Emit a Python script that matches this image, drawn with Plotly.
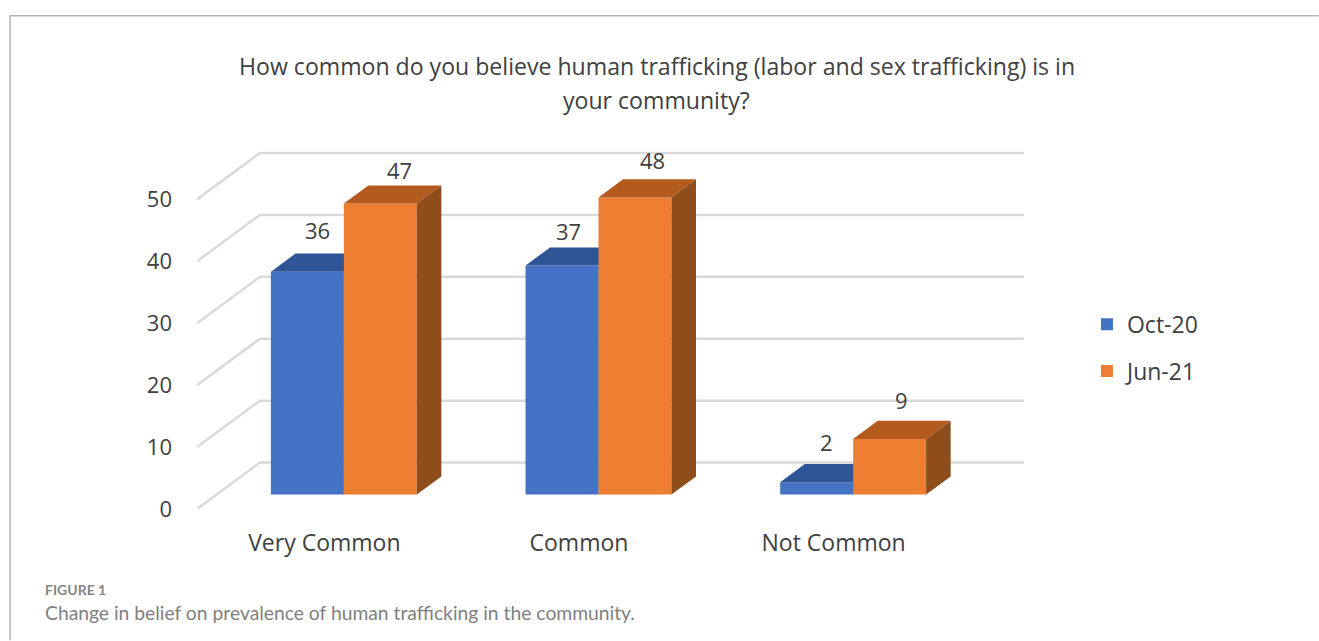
import plotly.graph_objects as go

# Survey results
categories = ["Very Common", "Common", "Not Common"]
oct_20 = [36, 37, 2]
jun_21 = [47, 48, 9]
y_ticks = [0, 10, 20, 30, 40, 50]

TITLE_LINES = ["How common do you believe human trafficking (labor and sex trafficking) is in",
               "your community?"]
FIG_LABEL = "FIGURE 1"
CAPTION = "Change in belief on prevalence of human trafficking in the community."

# Page and plot geometry, in pixels
W, H = 1319, 641
LEFT, RIGHT_EDGE, TOP, FLOOR = 196.5, 1040, 130, 509.5
PX_X = 254.8   # pixels per category
PX_Y = 6.2     # pixels per survey point
X_RANGE = [-0.5, -0.5 + (RIGHT_EDGE - LEFT) / PX_X]
Y_RANGE = [0, (FLOOR - TOP) / PX_Y]

# Oblique projection of the box: screen offset of the chart's full depth
DEPTH_X = 63 / PX_X
DEPTH_Y = 46.5 / PX_Y
BAR_NEAR, BAR_FAR = 0.31, 0.70   # where the bars sit along that depth
BAR_WIDTH = 73 / PX_X

TEXT = "#404040"
GRID = "#d9d9d9"
FONT = "Open Sans"
SERIES = [
    dict(name="Oct-20", values=oct_20, front="#4472C4", top="#2F5597", side="#2A4A80", offset=-0.5),
    dict(name="Jun-21", values=jun_21, front="#ED7D31", top="#B35A1F", side="#8F4D1B", offset=0.5),
]
# Nudges in pixels that keep each value label clear of its bar top
LABEL_SHIFTS = {
    "Oct-20": [(10, 42), (6, 35), (10, 40)],
    "Jun-21": [(19, 34), (18, 37), (12, 39)],
}


def project(x, y, depth):
    """Map a point on the floor plan to its oblique screen position in axis units."""
    return x + depth * DEPTH_X, y + depth * DEPTH_Y


plot_w = RIGHT_EDGE - LEFT
plot_h = FLOOR - TOP


def paper_x(px):
    return (px - LEFT) / plot_w


def paper_y(py):
    return (FLOOR - py) / plot_h


fig = go.Figure()

# Back wall gridlines and the receding lines on the side wall
for tick in y_ticks:
    x0, y0 = project(-0.5, tick, 0)
    x1, y1 = project(-0.5, tick, 1)
    x2, y2 = project(2.5, tick, 1)
    fig.add_trace(go.Scatter(
        x=[x0, x1, x2], y=[y0, y1, y2], mode="lines",
        line=dict(color=GRID, width=2.5), showlegend=False, hoverinfo="skip",
        xaxis="x", yaxis="y",
    ))

# Each series lives on its own overlaid axes so later bars hide earlier ones
for k, s in enumerate(SERIES):
    xa, ya = f"x{k + 2}", f"y{k + 2}"
    centers = [i + s["offset"] * BAR_WIDTH for i in range(len(categories))]
    _, base = project(0, 0, BAR_NEAR)
    shift_x = BAR_NEAR * DEPTH_X

    fig.add_trace(go.Bar(
        x=[c + shift_x for c in centers], y=s["values"], base=base, width=BAR_WIDTH,
        marker=dict(color=s["front"], line=dict(width=0)), name=s["name"],
        showlegend=False, xaxis=xa, yaxis=ya,
    ))

    for c, v in zip(centers, s["values"]):
        l, r = c - BAR_WIDTH / 2, c + BAR_WIDTH / 2
        # Top face
        pts = [project(l, v, BAR_NEAR), project(r, v, BAR_NEAR),
               project(r, v, BAR_FAR), project(l, v, BAR_FAR)]
        fig.add_trace(go.Scatter(
            x=[p[0] for p in pts] + [pts[0][0]], y=[p[1] for p in pts] + [pts[0][1]],
            mode="lines", fill="toself", fillcolor=s["top"], line=dict(width=0),
            showlegend=False, hoverinfo="skip", xaxis=xa, yaxis=ya,
        ))
        # Right side face
        pts = [project(r, 0, BAR_NEAR), project(r, v, BAR_NEAR),
               project(r, v, BAR_FAR), project(r, 0, BAR_FAR)]
        fig.add_trace(go.Scatter(
            x=[p[0] for p in pts] + [pts[0][0]], y=[p[1] for p in pts] + [pts[0][1]],
            mode="lines", fill="toself", fillcolor=s["side"], line=dict(width=0),
            showlegend=False, hoverinfo="skip", xaxis=xa, yaxis=ya,
        ))

    # Legend swatch
    fig.add_trace(go.Scatter(
        x=[None], y=[None], mode="markers", name=s["name"], legendgroup=s["name"],
        marker=dict(symbol="square", size=17, color=s["front"]),
        xaxis=xa, yaxis=ya,
    ))

# Value labels above the bars
annotations = []
for s in SERIES:
    for i, v in enumerate(s["values"]):
        c = i + s["offset"] * BAR_WIDTH
        x, y = project(c, v, BAR_NEAR)
        dx, dy = LABEL_SHIFTS[s["name"]][i]
        annotations.append(dict(
            x=x, y=y, xref="x", yref="y", text=str(v), showarrow=False,
            xshift=dx, yshift=dy, font=dict(family=FONT, size=22, color=TEXT),
        ))

# Title lines, then the figure label and caption under the chart
annotations += [
    dict(x=paper_x(656.5), y=paper_y(66), xref="paper", yref="paper", text=TITLE_LINES[0],
         showarrow=False, xanchor="center", yanchor="middle",
         font=dict(family=FONT, size=23.1, color=TEXT)),
    dict(x=paper_x(656.5), y=paper_y(100), xref="paper", yref="paper", text=TITLE_LINES[1],
         showarrow=False, xanchor="center", yanchor="middle",
         font=dict(family=FONT, size=23.1, color=TEXT)),
    dict(x=paper_x(42), y=paper_y(590), xref="paper", yref="paper", text=f"<b>{FIG_LABEL}</b>",
         showarrow=False, xanchor="left", yanchor="middle",
         font=dict(family="Lato", size=14, color="#858585")),
    dict(x=paper_x(42), y=paper_y(613), xref="paper", yref="paper", text=CAPTION,
         showarrow=False, xanchor="left", yanchor="middle",
         font=dict(family="Lato", size=19.3, color="#7f7f7f")),
]

hidden = dict(range=X_RANGE, visible=False, fixedrange=True)
hidden_y = dict(range=Y_RANGE, visible=False, fixedrange=True)

fig.update_layout(
    width=W, height=H, autosize=False,
    margin=dict(l=LEFT, r=W - RIGHT_EDGE, t=TOP, b=H - FLOOR, pad=0),
    paper_bgcolor="white", plot_bgcolor="rgba(0,0,0,0)",
    font=dict(family=FONT, color=TEXT),
    barmode="overlay",
    xaxis=dict(range=X_RANGE, tickvals=[0, 1, 2], ticktext=categories, showgrid=False,
               zeroline=False, showline=False, ticks="", ticklabelstandoff=18,
               tickfont=dict(family=FONT, size=23, color=TEXT), fixedrange=True),
    yaxis=dict(range=Y_RANGE, tickvals=y_ticks, showgrid=False, zeroline=False,
               showline=False, ticks="", ticklabelstandoff=24,
               tickfont=dict(family=FONT, size=22, color=TEXT), fixedrange=True),
    xaxis2=dict(hidden, overlaying="x"), yaxis2=dict(hidden_y, overlaying="y"),
    xaxis3=dict(hidden, overlaying="x"), yaxis3=dict(hidden_y, overlaying="y"),
    legend=dict(x=paper_x(1087), xanchor="left", y=paper_y(303), yanchor="top",
                font=dict(family=FONT, size=23, color=TEXT), itemsizing="constant",
                tracegroupgap=14, bgcolor="rgba(0,0,0,0)"),
    annotations=annotations,
    shapes=[
        dict(type="line", xref="paper", yref="paper",
             x0=paper_x(9), x1=paper_x(W),
             y0=paper_y(15.5), y1=paper_y(15.5),
             line=dict(color="#b5b5b5", width=1.5)),
        dict(type="line", xref="paper", yref="paper",
             x0=paper_x(9.5), x1=paper_x(9.5),
             y0=paper_y(15), y1=paper_y(H),
             line=dict(color="#b5b5b5", width=1.5)),
    ],
)

fig.write_html("out.html", config={"displayModeBar": False})
